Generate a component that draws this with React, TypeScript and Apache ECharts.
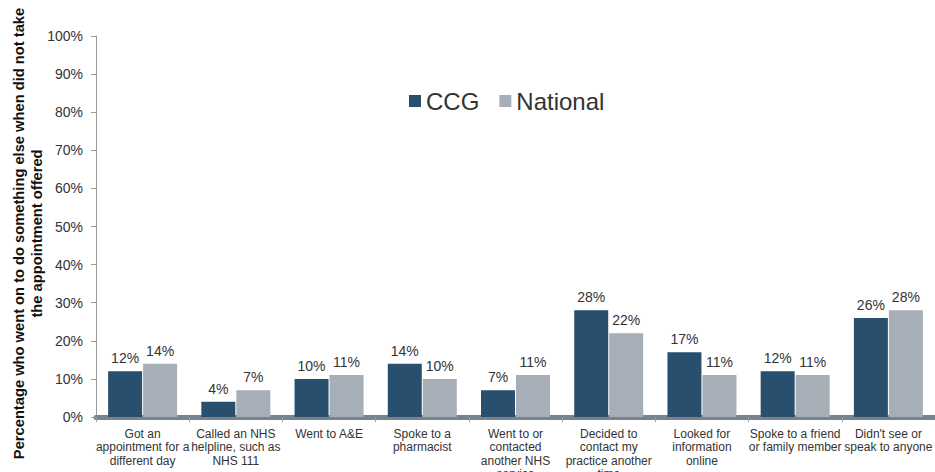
import React, { useEffect, useRef } from "react";
import * as echarts from "echarts";

const categories = [
  "Got an\nappointment for a\ndifferent day",
  "Called an NHS\nhelpline, such as\nNHS 111",
  "Went to A&E",
  "Spoke to a\npharmacist",
  "Went to or\ncontacted\nanother NHS\nservice",
  "Decided to\ncontact my\npractice another\ntime",
  "Looked for\ninformation\nonline",
  "Spoke to a friend\nor family member",
  "Didn't see or\nspeak to anyone",
];
const ccgValues = [12, 4, 10, 14, 7, 28, 17, 12, 26];
const nationalValues = [14, 7, 11, 10, 11, 22, 11, 11, 28];
const yTicks = [0, 10, 20, 30, 40, 50, 60, 70, 80, 90, 100];

export default function App() {
  const ref = useRef<HTMLDivElement>(null);
  useEffect(() => {
    document.body.style.margin = "0";
    if (!ref.current) return;
    const chart = echarts.init(ref.current, null, { renderer: "svg" });
    const font = "Liberation Sans, Arial, sans-serif";
    chart.setOption({
      animation: false,
      textStyle: { fontFamily: font },
      legend: {
        top: 84,
        left: 404,
        itemWidth: 12,
        itemHeight: 12,
        itemGap: 20,
        icon: "rect",
        textStyle: { fontSize: 24, color: "#333", fontFamily: font },
        data: ["CCG", "National"],
      },
      grid: {
        left: 96,
        right: 0,
        top: 36,
        bottom: 55,
        containLabel: false,
        outerBoundsMode: "none",
      },
      xAxis: {
        type: "category",
        data: categories,
        axisLine: { lineStyle: { color: "#77838f", width: 5 } },
        axisTick: { show: true, length: 5, lineStyle: { color: "#9a9a9a" } },
        axisLabel: {
          interval: 0,
          fontSize: 12,
          lineHeight: 13.5,
          color: "#333",
          margin: 10,
          fontFamily: font,
        },
      },
      yAxis: {
        type: "value",
        min: 0,
        max: yTicks[yTicks.length - 1],
        interval: 10,
        name: "Percentage who went on to do something else when did not take\nthe appointment offered",
        nameLocation: "middle",
        nameGap: 50,
        nameMoveOverlap: false,
        nameTextStyle: {
          fontSize: 14.7,
          fontWeight: "bold",
          color: "#111",
          lineHeight: 18,
          fontFamily: font,
          padding: [0, 14, 0, 0],
        },
        axisLine: { show: true, lineStyle: { color: "#9a9a9a", width: 1 } },
        axisTick: { show: true, length: 5, lineStyle: { color: "#9a9a9a" } },
        splitLine: { show: false },
        axisLabel: {
          formatter: (v: number) => v + "%",
          fontSize: 14,
          color: "#333",
          margin: 13,
          fontFamily: font,
        },
      },
      series: [
        {
          name: "CCG",
          type: "bar",
          data: ccgValues,
          barGap: "3%",
          barCategoryGap: "26%",
          itemStyle: { color: "#284f6e" },
          label: {
            show: true,
            position: "top",
            distance: 6,
            formatter: "{c}%",
            fontSize: 14,
            color: "#333",
            fontFamily: font,
          },
        },
        {
          name: "National",
          type: "bar",
          data: nationalValues,
          itemStyle: { color: "#a6aeb8" },
          label: {
            show: true,
            position: "top",
            distance: 6,
            formatter: "{c}%",
            fontSize: 14,
            color: "#333",
            fontFamily: font,
          },
        },
      ],
    });
    return () => chart.dispose();
  }, []);
  return <div ref={ref} style={{ width: 935, height: 472 }} />;
}
